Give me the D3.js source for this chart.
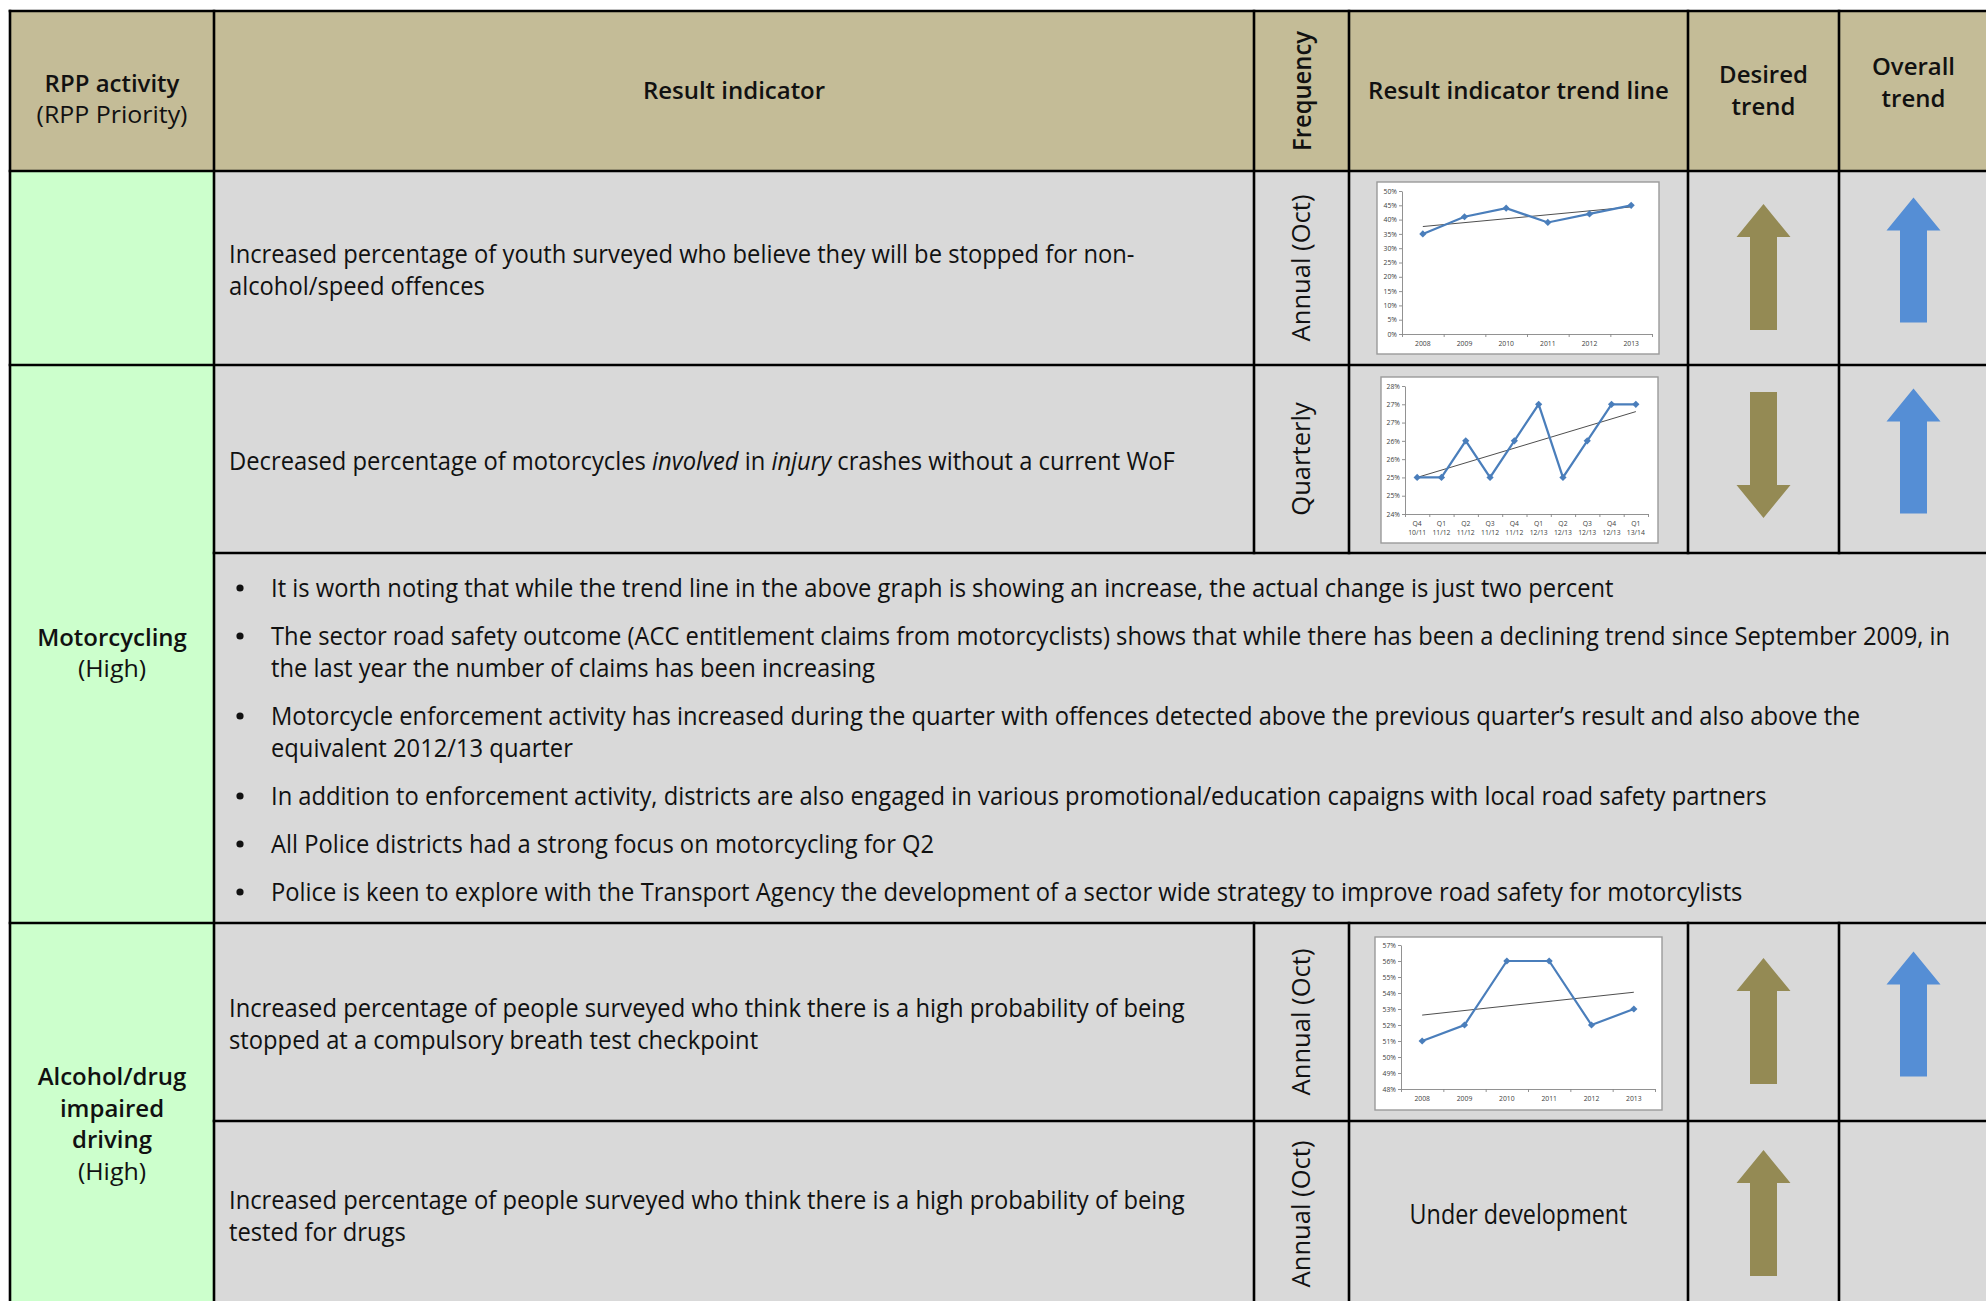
<!DOCTYPE html>
<html><head><meta charset="utf-8">
<script src="https://cdn.jsdelivr.net/npm/d3@7/dist/d3.min.js"></script>
<style>html,body{margin:0;padding:0;background:#fff;overflow:hidden}svg{display:block}</style>
</head><body>
<svg id="chart" width="1986" height="1301"></svg>
<script>
// ---------------- data ----------------
const activityHeader = ["RPP activity", "(RPP Priority)"];
const columnHeaders = [["Result indicator"], ["Frequency"], ["Result indicator trend line"], ["Desired", "trend"], ["Overall", "trend"]];
const activityNames = [[], ["Motorcycling"], ["Alcohol/drug", "impaired", "driving"]];
const activityPriorities = ["", "(High)", "(High)"];
const indicatorLines = [
  ["Increased percentage of youth surveyed who believe they will be stopped for non-", "alcohol/speed offences"],
  ["Decreased percentage of motorcycles *involved* in *injury* crashes without a current WoF"],
  ["Increased percentage of people surveyed who think there is a high probability of being", "stopped at a compulsory breath test checkpoint"],
  ["Increased percentage of people surveyed who think there is a high probability of being", "tested for drugs"]
];
const frequencies = ["Annual (Oct)", "Quarterly", "Annual (Oct)", "Annual (Oct)"];
const desiredTrend = ["up", "down", "up", "up"];
const overallTrend = ["up", "up", "up", null];
const trendNotes = [null, null, null, "Under development"];
const bulletNotes = [
  ["It is worth noting that while the trend line in the above graph is showing an increase, the actual change is just two percent"],
  ["The sector road safety outcome (ACC entitlement claims from motorcyclists) shows that while there has been a declining trend since September 2009, in", "the last year the number of claims has been increasing"],
  ["Motorcycle enforcement activity has increased during the quarter with offences detected above the previous quarter\u2019s result and also above the", "equivalent 2012/13 quarter"],
  ["In addition to enforcement activity, districts are also engaged in various promotional/education capaigns with local road safety partners"],
  ["All Police districts had a strong focus on motorcycling for Q2"],
  ["Police is keen to explore with the Transport Agency the development of a sector wide strategy to improve road safety for motorcylists"]
];
// mini chart 1: youth surveyed (annual)
const ch1Categories = ["2008", "2009", "2010", "2011", "2012", "2013"];
const ch1Values = [35, 41, 44, 39, 42, 45];
const ch1Ticks = [0, 5, 10, 15, 20, 25, 30, 35, 40, 45, 50];
// mini chart 2: motorcycles without WoF (quarterly)
const ch2Quarters = ["Q4", "Q1", "Q2", "Q3", "Q4", "Q1", "Q2", "Q3", "Q4", "Q1"];
const ch2Years = ["10/11", "11/12", "11/12", "11/12", "11/12", "12/13", "12/13", "12/13", "12/13", "13/14"];
const ch2Values = [25, 25, 26, 25, 26, 27, 25, 26, 27, 27];
const ch2Ticks = [24, 24.5, 25, 25.5, 26, 26.5, 27, 27.5];
// mini chart 3: breath test checkpoint (annual)
const ch3Categories = ["2008", "2009", "2010", "2011", "2012", "2013"];
const ch3Values = [51, 52, 56, 56, 52, 53];
const ch3Ticks = [48, 49, 50, 51, 52, 53, 54, 55, 56, 57];

// ---------------- layout ----------------
const W = 1986, H = 1301;
const L = {left: 10, c1: 214, c2: 1254, c3: 1349, c4: 1688, c5: 1839, right: 1990,
           top: 11, head: 171, r1: 365, r2: 553, bul: 923, r3: 1121, bottom: 1307};
const rowBands = [[L.head, L.r1], [L.r1, L.r2], [L.bul, L.r3], [L.r3, L.bottom]];
const TAN = "#C4BC97", GREEN = "#CCFFCC", GRAY = "#D9D9D9", OLIVE = "#948A54", BLUE = "#558ED5";
const INK = "#111";

const svg = d3.select("#chart");
svg.append("rect").attr("width", W).attr("height", H).attr("fill", "#fff");

// text styles
const ST = {
  body:  {family: "'Open Sans', sans-serif", size: 25, weight: 400, dy: 10.6},
  headB: {family: "'Open Sans', sans-serif", size: 23, weight: 600, dy: 8.4},
  headN: {family: "'Open Sans', sans-serif", size: 23, weight: 400, dy: 8.4},
  freq:  {family: "'Open Sans', sans-serif", size: 26, weight: 400, dy: 8.6},
  freqB: {family: "'Open Sans', sans-serif", size: 26, weight: 600, dy: 8.6},
  note:  {family: "'Open Sans', sans-serif", size: 27, weight: 400, dy: 9}
};
function applyStyle(sel, st) {
  sel.attr("font-family", st.family).attr("font-size", st.size).attr("font-weight", st.weight).attr("fill", INK);
}
function measure(st, str) {
  const t = svg.append("text").call(applyStyle, st).text(str);
  const w = t.node().getComputedTextLength();
  t.remove();
  return w;
}
// horizontal condensation so each style matches the reference's text width
ST.body.k  = 906 / measure(ST.body, indicatorLines[0][0]);
ST.headB.k = 301 / measure(ST.headB, columnHeaders[2][0]);
ST.headN.k = 151 / measure(ST.headN, activityHeader[1]);
ST.freq.k  = 147 / measure(ST.freq, frequencies[0]);
ST.freqB.k = 120 / measure(ST.freqB, columnHeaders[1][0]);
ST.note.k  = 218 / measure(ST.note, trendNotes[3]);

function addText(g, str, x, yc, st, anchor, rot) {
  // yc = visual centre of the line
  const t = g.append("text").call(applyStyle, st)
    .attr("text-anchor", anchor || "start")
    .attr("transform", rot
      ? `translate(${x},${yc}) rotate(${rot}) translate(0,${st.dy}) scale(${st.k},1)`
      : `translate(${x},${yc + st.dy}) scale(${st.k},1)`);
  const parts = str.split("*");
  parts.forEach((p, i) => {
    if (!p) return;
    t.append("tspan").attr("font-style", i % 2 ? "italic" : "normal").text(p);
  });
  return t;
}

// ---------------- cell backgrounds ----------------
const bg = svg.append("g");
bg.append("rect").attr("x", L.left).attr("y", L.top).attr("width", L.right - L.left).attr("height", L.head - L.top).attr("fill", TAN);
bg.append("rect").attr("x", L.left).attr("y", L.head).attr("width", L.c1 - L.left).attr("height", L.bottom - L.head).attr("fill", GREEN);
bg.append("rect").attr("x", L.c1).attr("y", L.head).attr("width", L.right - L.c1).attr("height", L.bottom - L.head).attr("fill", GRAY);

// ---------------- header texts ----------------
const tg = svg.append("g");
addText(tg, activityHeader[0], (L.left + L.c1) / 2, 84, ST.headB, "middle");
addText(tg, activityHeader[1], (L.left + L.c1) / 2, 115, ST.headN, "middle");
addText(tg, columnHeaders[0][0], (L.c1 + L.c2) / 2, 91, ST.headB, "middle");
addText(tg, columnHeaders[1][0], (L.c2 + L.c3) / 2 + 1, 91, ST.freqB, "middle", -90);
addText(tg, columnHeaders[2][0], (L.c3 + L.c4) / 2, 91, ST.headB, "middle");
columnHeaders[3].forEach((s, i) => addText(tg, s, (L.c4 + L.c5) / 2, 75 + i * 31.5, ST.headB, "middle"));
columnHeaders[4].forEach((s, i) => addText(tg, s, (L.c5 + L.right) / 2 - 1, 67 + i * 31.5, ST.headB, "middle"));

// activity labels
const actCentres = [null, 653, 1124];
activityNames.forEach((names, gi) => {
  if (!names.length) return;
  const lines = names.length + 1;
  const y0 = actCentres[gi] - (lines - 1) * 31.5 / 2;
  names.forEach((s, i) => addText(tg, s, (L.left + L.c1) / 2, y0 + i * 31.5, ST.headB, "middle"));
  addText(tg, activityPriorities[gi], (L.left + L.c1) / 2, y0 + names.length * 31.5, ST.headN, "middle");
});

// indicator texts + frequencies + notes
const LINE = 32;
rowBands.forEach(([a, b], ri) => {
  const cy = (a + b) / 2;
  const lines = indicatorLines[ri];
  lines.forEach((s, i) => addText(tg, s, 229, cy - (lines.length - 1) * LINE / 2 + i * LINE, ST.body, "start"));
  addText(tg, frequencies[ri], (L.c2 + L.c3) / 2, cy, ST.freq, "middle", -90);
  if (trendNotes[ri]) addText(tg, trendNotes[ri], (L.c3 + L.c4) / 2, cy + 1, ST.note, "middle");
});

// bullets
let by = 586;
bulletNotes.forEach(lines => {
  tg.append("circle").attr("cx", 240).attr("cy", by + 2).attr("r", 3.6).attr("fill", INK);
  lines.forEach((s, i) => addText(tg, s, 271, by + i * LINE, ST.body, "start"));
  by += (lines.length - 1) * LINE + 48;
});

// ---------------- arrows ----------------
function arrowPath(cx, y0, y1, dir) {
  const hw = 27, sw = 13.5, hl = 33;
  if (dir === "up") {
    return `M${cx},${y0}L${cx + hw},${y0 + hl}L${cx + sw},${y0 + hl}L${cx + sw},${y1}L${cx - sw},${y1}L${cx - sw},${y0 + hl}L${cx - hw},${y0 + hl}Z`;
  }
  return `M${cx},${y1}L${cx + hw},${y1 - hl}L${cx + sw},${y1 - hl}L${cx + sw},${y0}L${cx - sw},${y0}L${cx - sw},${y1 - hl}L${cx - hw},${y1 - hl}Z`;
}
const ag = svg.append("g");
rowBands.forEach(([a, b], ri) => {
  const cy = (a + b) / 2;
  if (desiredTrend[ri]) {
    const c = cy - (desiredTrend[ri] === "down" ? 4 : 1);
    ag.append("path").attr("d", arrowPath((L.c4 + L.c5) / 2, c - 63, c + 63, desiredTrend[ri])).attr("fill", OLIVE);
  }
  if (overallTrend[ri]) {
    const c = cy - 8;
    ag.append("path").attr("d", arrowPath((L.c5 + L.right) / 2 - 1, c - 62.5, c + 62.5, overallTrend[ri])).attr("fill", BLUE);
  }
});

// ---------------- mini charts ----------------
function miniChart(box, plot, cats, catLines, values, ticks, fmt) {
  const g = svg.append("g");
  g.append("rect").attr("x", box[0]).attr("y", box[1]).attr("width", box[2] - box[0]).attr("height", box[3] - box[1])
    .attr("fill", "#fff").attr("stroke", "#9a9a9a").attr("stroke-width", 1.4);
  const x = d3.scaleBand().domain(d3.range(cats.length)).range([plot.x0, plot.x1]).padding(0);
  const xb = d3.scaleLinear().domain([0, cats.length]).range([plot.x0, plot.x1]);
  const y = d3.scaleLinear().domain([ticks[0], ticks[ticks.length - 1]]).range([plot.y1, plot.y0]);
  const ya = g.append("g").attr("transform", `translate(${plot.x0},0)`)
    .call(d3.axisLeft(y).tickValues(ticks).tickFormat(fmt).tickSize(3).tickPadding(2).tickSizeOuter(0));
  const xa = g.append("g").attr("transform", `translate(0,${plot.y1})`)
    .call(d3.axisBottom(xb).tickValues(d3.range(cats.length + 1)).tickFormat("").tickSize(3).tickSizeOuter(0));
  [ya, xa].forEach(a => {
    a.select(".domain").attr("stroke", "#868686").attr("stroke-width", 0.9);
    a.selectAll(".tick line").attr("stroke", "#868686").attr("stroke-width", 0.9);
    a.selectAll("text").attr("font-family", "'Open Sans', sans-serif").attr("font-size", 6.8).attr("fill", "#404040");
  });
  const lab = g.append("g");
  cats.forEach((c, i) => {
    const t = lab.append("text").attr("x", x(i) + x.bandwidth() / 2).attr("y", plot.y1 + 12)
      .attr("text-anchor", "middle").attr("font-family", "'Open Sans', sans-serif").attr("font-size", 6.8).attr("fill", "#404040");
    t.append("tspan").attr("x", x(i) + x.bandwidth() / 2).text(c);
    if (catLines) t.append("tspan").attr("x", x(i) + x.bandwidth() / 2).attr("dy", 9).text(catLines[i]);
  });
  // linear trend line (least squares)
  const n = values.length, mx = (n - 1) / 2, my = d3.mean(values);
  const slope = d3.sum(values, (v, i) => (i - mx) * (v - my)) / d3.sum(values, (v, i) => (i - mx) * (i - mx));
  const icpt = my - slope * mx;
  const cx = i => x(i) + x.bandwidth() / 2;
  g.append("line").attr("x1", cx(0)).attr("y1", y(icpt)).attr("x2", cx(n - 1)).attr("y2", y(icpt + slope * (n - 1)))
    .attr("stroke", "#3a3a3a").attr("stroke-width", 0.9);
  g.append("path").datum(values)
    .attr("d", d3.line().x((v, i) => cx(i)).y(v => y(v)))
    .attr("fill", "none").attr("stroke", "#4A7EBB").attr("stroke-width", 2.2);
  g.selectAll(".mk").data(values).join("path")
    .attr("d", d3.symbol(d3.symbolSquare, 26))
    .attr("transform", (v, i) => `translate(${cx(i)},${y(v)}) rotate(45)`)
    .attr("fill", "#4A7EBB");
}
const pct = v => Math.round(v) + "%";
miniChart([1377, 182, 1659, 354], {x0: 1402, x1: 1652, y0: 191, y1: 334}, ch1Categories, null, ch1Values, ch1Ticks, pct);
miniChart([1381, 377, 1658, 543], {x0: 1405, x1: 1648, y0: 386, y1: 514}, ch2Quarters, ch2Years, ch2Values, ch2Ticks, pct);
miniChart([1375, 937, 1662, 1110], {x0: 1401, x1: 1655, y0: 945, y1: 1089}, ch3Categories, null, ch3Values, ch3Ticks, pct);

// ---------------- grid lines ----------------
const gl = svg.append("g").attr("stroke", "#000").attr("stroke-width", 2.6).attr("stroke-linecap", "square");
const hLines = [[L.top, L.left, L.right], [L.head, L.left, L.right], [L.r1, L.left, L.right], [L.r2, L.c1, L.right],
                [L.bul, L.left, L.right], [L.r3, L.c1, L.right], [L.bottom, L.left, L.right]];
hLines.forEach(([yy, a, b]) => gl.append("line").attr("x1", a).attr("x2", b).attr("y1", yy).attr("y2", yy));
const vLines = [[L.left, L.top, L.bottom], [L.c1, L.top, L.bottom], [L.right, L.top, L.bottom]];
[L.c2, L.c3, L.c4, L.c5].forEach(xx => { vLines.push([xx, L.top, L.r2]); vLines.push([xx, L.bul, L.bottom]); });
vLines.forEach(([xx, a, b]) => gl.append("line").attr("x1", xx).attr("x2", xx).attr("y1", a).attr("y2", b));
</script>
</body></html>
